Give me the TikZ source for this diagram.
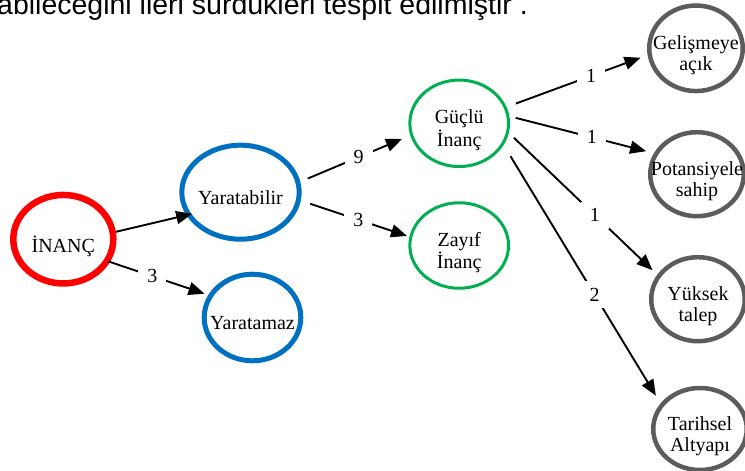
\documentclass[tikz,border=0pt]{standalone}
\usepackage{fontspec}
\setmainfont{Liberation Serif}
\newfontfamily\arialfont{Liberation Sans}
\usetikzlibrary{arrows.meta,shapes.geometric}
\definecolor{inancred}{RGB}{255,0,0}
\definecolor{yarblue}{RGB}{0,112,192}
\definecolor{inancgreen}{RGB}{0,176,80}
\definecolor{sonucgray}{RGB}{92,92,92}
% text of a node, kept out of the size of the ellipse
\newcommand{\nodetext}[1]{\makebox[0pt]{\raisebox{-13pt}[0pt][0pt]{\begin{tabular}{@{}c@{}}#1\end{tabular}}}}

\begin{document}
\begin{tikzpicture}[x=1pt,y=-1pt,
  main node/.style={ellipse,draw,inner sep=0pt,font=\fontsize{20}{21}\selectfont},
  root node/.style={main node,draw=inancred,line width=6.5pt,minimum width=100pt,minimum height=88.5pt},
  blue node/.style={main node,draw=yarblue,line width=5pt},
  green node/.style={main node,draw=inancgreen,line width=3pt,minimum width=98.7pt,minimum height=86.5pt},
  gray node/.style={main node,draw=sonucgray,line width=4.5pt,minimum width=93.5pt,minimum height=84pt},
  link/.style={-{Triangle[length=16pt,width=13pt]},line width=1.9pt},
  num/.style={fill=white,inner xsep=9pt,inner ysep=7pt,font=\fontsize{20}{21}\selectfont}]
\useasboundingbox (0,0) rectangle (745,471);

\node[anchor=base east,inner sep=0pt,font=\arialfont\fontsize{28.5}{30}\selectfont] (cumle) at (528,15) {abileceğini ileri sürdükleri tespit edilmiştir .};

\node[root node] (inanc) at (63.3,239.2) {\nodetext{İNANÇ}};
\node[blue node,minimum width=117.4pt,minimum height=94pt] (yarat) at (240.5,192.2) {\nodetext{Yaratabilir}};
\node[blue node,minimum width=96.6pt,minimum height=86.6pt] (yaratamaz) at (252.5,317.5) {\nodetext{Yaratamaz}};
\node[green node] (guclu) at (459.2,123.3) {\nodetext{Güçlü\\İnanç}};
\node[green node,minimum height=85.5pt] (zayif) at (459.2,245.5) {\nodetext{Zayıf\\İnanç}};
\node[gray node,minimum height=85.5pt] (gelis) at (696,48.3) {\nodetext{Gelişmeye\\açık}};
\node[gray node] (potans) at (697,174.2) {\nodetext{Potansiyele\\sahip}};
\node[gray node] (yuksek) at (698,299.2) {\nodetext{Yüksek\\talep}};
\node[gray node,minimum height=82pt] (tarih) at (700,429) {\nodetext{Tarihsel\\Altyapı}};

\draw (inanc.8) edge[link,shorten >=-6pt] (yarat.203);
\draw (inanc.334.5) edge[link,shorten <=-2pt,shorten >=4pt] node[num,pos=0.43] {3} (yaratamaz.153.8);
\draw (yarat.10.8) edge[link,shorten <=8pt,shorten >=9pt] node[num,pos=0.53] {9} (guclu.194.6);
\draw (yarat.352.3) edge[link,shorten <=10pt,shorten >=2.5pt] node[num,pos=0.53] {3} (zayif.170.5);
\draw (guclu.19.9) edge[link,shorten <=10pt,shorten >=7.5pt] node[num,pos=0.6] {1} (gelis.188.5);
\draw (guclu.8.3) edge[link,shorten <=6.5pt,shorten >=8pt] node[num,pos=0.57] {1} (potans.154.3);
\draw (guclu.349.1) edge[link,shorten <=7pt,shorten >=6.5pt] node[num,pos=0.58] {1} (yuksek.149.3);
\draw (guclu.334.8) edge[link,shorten <=13pt,shorten >=9pt] node[num,pos=0.58] {2} (tarih.147.3);
\end{tikzpicture}
\end{document}
